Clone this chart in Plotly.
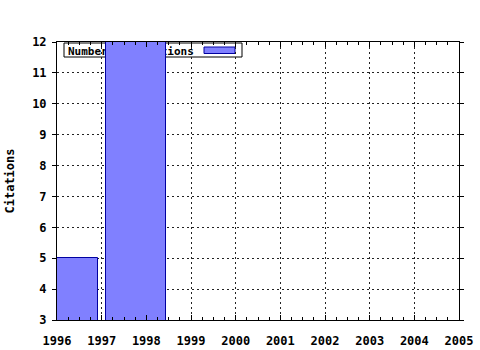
import plotly.graph_objects as go

series_name = "Number of citations"
bar_start = [1996.0, 1997.1]
bar_end = [1996.91, 1998.45]
citations = [5, 12]
year_ticks = list(range(1996, 2006))
y_ticks = list(range(3, 13))

centers = [(a + b) / 2 for a, b in zip(bar_start, bar_end)]
widths = [b - a for a, b in zip(bar_start, bar_end)]

font_fam = "DejaVu Sans Mono"

fig = go.Figure()
fig.add_trace(go.Bar(
    x=centers, y=citations, width=widths, name=series_name,
    marker=dict(color="#8080ff", line=dict(color="#0000a0", width=1)),
    showlegend=False,
))

axis_common = dict(
    showline=True, linecolor="black", linewidth=1, mirror="ticks",
    showgrid=True, gridcolor="#222222", gridwidth=1, griddash="2px,3px",
    zeroline=False, automargin=False,
    tickfont=dict(family=font_fam, size=12, color="black", weight="bold"),
)

fig.update_xaxes(
    range=[1996, 2005], tickvals=year_ticks, ticktext=[str(y) for y in year_ticks],
    ticks="inside", ticklen=5, tickcolor="black", ticklabelstandoff=10,
    minor=dict(dtick=0.25, tick0=1996, ticks="inside", ticklen=3, tickcolor="black", showgrid=False),
    **axis_common,
)
fig.update_yaxes(
    range=[3, 12], tickvals=y_ticks,
    ticks="outside", ticklen=4, tickcolor="black", ticklabelstandoff=3,
    title=dict(text="Citations", font=dict(family=font_fam, size=12, color="black", weight="bold"), standoff=14),
    **axis_common,
)

# legend box drawn between grid and bars
fig.add_shape(
    type="rect", xref="paper", yref="paper", layer="between",
    x0=(64 - 57) / 402, x1=(242 - 57) / 402, y0=(320 - 57) / 278, y1=(320 - 43) / 278,
    fillcolor="white", line=dict(color="black", width=1),
    label=dict(text=series_name, textposition="middle left", padding=1,
               font=dict(family=font_fam, size=11, color="black", weight="bold")),
)
fig.add_shape(
    type="rect", xref="paper", yref="paper", layer="between",
    x0=(204 - 57) / 402, x1=(235 - 57) / 402, y0=(320 - 53.5) / 278, y1=(320 - 47) / 278,
    fillcolor="#8080ff", line=dict(color="#0000a0", width=1),
)

fig.update_layout(
    width=480, height=350,
    margin=dict(l=57, r=21, t=42, b=30),
    paper_bgcolor="white", plot_bgcolor="white",
    bargap=0,
    showlegend=False,
)

fig.write_html("out.html")
